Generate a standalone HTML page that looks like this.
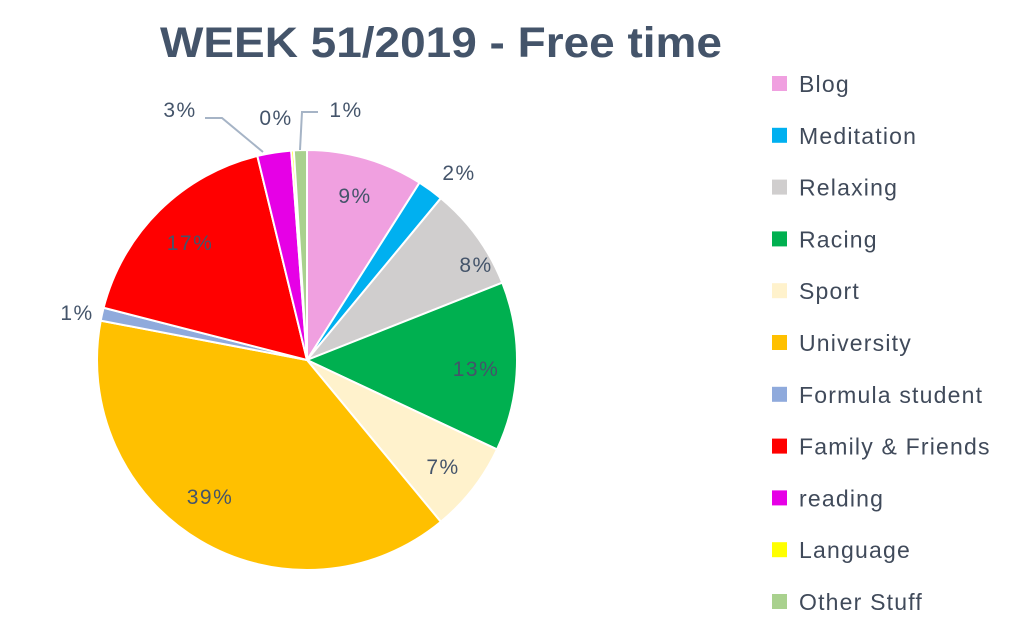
<!DOCTYPE html>
<html><head><meta charset="utf-8">
<style>
body{margin:0;background:#fff;width:1023px;height:627px;overflow:hidden;font-family:"Liberation Sans",sans-serif}
</style></head><body>
<svg id="s" width="1023" height="627" xmlns="http://www.w3.org/2000/svg">
<text x="160" y="57" textLength="562" lengthAdjust="spacingAndGlyphs" font-family="Liberation Sans, sans-serif" font-weight="bold" font-size="43" fill="#44546a">WEEK 51/2019 - Free time</text>
<g id="pie"></g>
<g font-family="Liberation Sans, sans-serif" font-size="21" letter-spacing="1.5" fill="#44546a" text-anchor="middle">
<text x="355" y="203">9%</text>
<text x="459" y="180">2%</text>
<text x="476" y="272">8%</text>
<text x="476" y="376">13%</text>
<text x="443" y="474">7%</text>
<text x="210" y="504">39%</text>
<text x="77" y="320">1%</text>
<text x="190" y="250">17%</text>
<text x="180" y="117">3%</text>
<text x="276" y="125">0%</text>
<text x="346" y="117">1%</text>
</g>
<polyline points="205,118 222,118 263,152" fill="none" stroke="#a6b4c6" stroke-width="2"/>
<polyline points="318,112 302,112 300,150" fill="none" stroke="#a6b4c6" stroke-width="2"/>
<g id="leg" font-family="Liberation Sans, sans-serif" font-size="23" letter-spacing="1.2" fill="#404a5a"></g>
</svg>
<script>
var d=[["Blog",9,"#f0a0e0"],["Meditation",2,"#00b0f0"],["Relaxing",8,"#d0cece"],["Racing",13,"#00b050"],["Sport",7,"#fff2cc"],["University",39,"#ffc000"],["Formula student",1,"#8faadc"],["Family & Friends",17.2,"#ff0000"],["reading",2.6,"#e600e6"],["Language",0.2,"#ffff00"],["Other Stuff",1,"#a9d18e"]];
var tot=0;d.forEach(function(e){tot+=e[1]});
var cx=307,cy=360,r=210,a=0,pie=document.getElementById('pie'),leg=document.getElementById('leg'),ns="http://www.w3.org/2000/svg";
d.forEach(function(e,i){
 var a2=a+e[1]/tot*2*Math.PI;
 var x1=cx+r*Math.sin(a),y1=cy-r*Math.cos(a),x2=cx+r*Math.sin(a2),y2=cy-r*Math.cos(a2);
 var p=document.createElementNS(ns,"path");
 p.setAttribute("d","M"+cx+","+cy+"L"+x1+","+y1+"A"+r+","+r+" 0 "+((a2-a)>Math.PI?1:0)+" 1 "+x2+","+y2+"Z");
 p.setAttribute("fill",e[2]);p.setAttribute("stroke","#fff");p.setAttribute("stroke-width","2");
 pie.appendChild(p);a=a2;
 var y=84+i*51.8;
 var rc=document.createElementNS(ns,"rect");
 rc.setAttribute("x",772);rc.setAttribute("y",y-8);rc.setAttribute("width",15);rc.setAttribute("height",15);rc.setAttribute("fill",e[2]);
 leg.appendChild(rc);
 var t=document.createElementNS(ns,"text");t.setAttribute("x",799);t.setAttribute("y",y+8);t.textContent=e[0];leg.appendChild(t);
});
</script>
</body></html>
